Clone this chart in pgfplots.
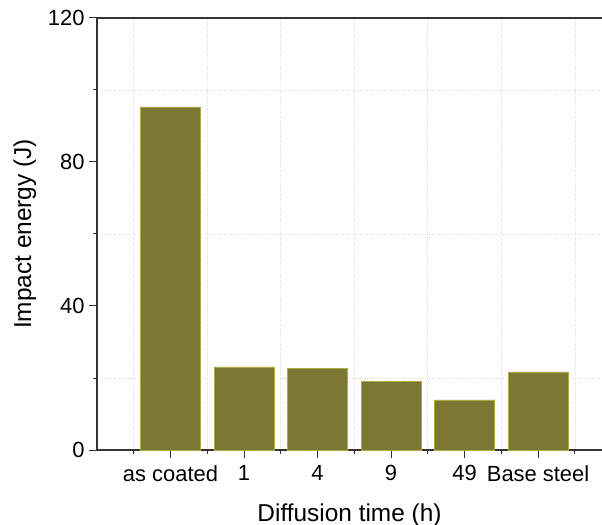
\documentclass[border=0pt]{standalone}
\usepackage{pgfplots}
\pgfplotsset{compat=1.18}
\usepackage{fontspec}
\setmainfont{Liberation Sans}
\definecolor{barfill}{HTML}{7A7832}
\definecolor{baredge}{HTML}{B0AA42}
\definecolor{axline}{HTML}{333333}

\begin{document}
\begin{tikzpicture}
  \begin{axis}[
      name=ax,
      scale only axis,
      width=505bp, height=432bp,
      xmin=0, xmax=6.87,
      ymin=0, ymax=120,
      axis x line=box, axis y line=left,
      axis line style={axline, line width=1.1bp, -},
      xtick={1,2,3,4,5,6},
      xticklabels={as coated, 1, 4, 9, 49, Base steel},
      minor xtick={0.5,1.5,2.5,3.5,4.5,5.5,6.5},
      ytick={0,40,80,120},
      minor ytick={20,60,100},
      xtick pos=left, ytick pos=left,
      tick align=outside,
      major tick length=8bp,
      minor tick length=4bp,
      tick style={axline, line width=1bp},
      xminorgrids=true, yminorgrids=true,
      minor grid style={dotted, gray!30, line width=0.6bp},
      /pgf/number format/assume math mode=true,
      tick label style={font=\fontsize{22}{25}\selectfont},
      label style={font=\fontsize{24.5}{28}\selectfont},
      xlabel={Diffusion time (h)},
      ylabel={Impact energy (J)},
      xticklabel style={yshift=-4bp},
      xlabel style={yshift=-15bp},
      ylabel style={yshift=5bp},
      yticklabel style={xshift=-1bp},
    ]
    % impact energy per state
    \addplot[ybar, bar width=60bp, fill=barfill, draw=baredge, line width=0.5bp]
      coordinates {(1,95.3) (2,23.1) (3,22.6) (4,19.0) (5,13.9) (6,21.7)};
  \end{axis}
  \pgfresetboundingbox
  \path ([shift={(-97bp,-75bp)}]ax.south west) rectangle ([shift={(0bp,18bp)}]ax.north east);
\end{tikzpicture}
\end{document}
